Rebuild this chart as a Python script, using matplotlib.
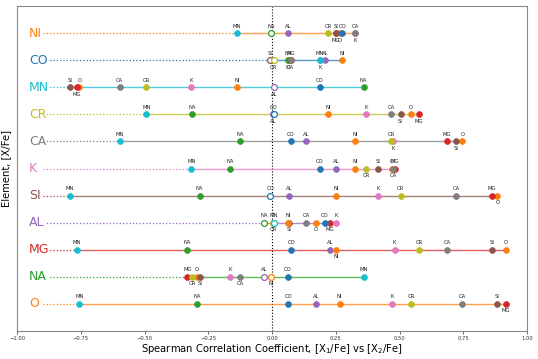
import numpy as np
import matplotlib
matplotlib.use("Agg")
import matplotlib.pyplot as plt

# element order (colour index C1.. wraps through tab10)
elements = ["O", "NA", "MG", "AL", "SI", "K", "CA", "CR", "MN", "CO", "NI"]

# upper-triangle Spearman coefficients
pairs = {
    ("O", "NA"): -0.295, ("O", "MG"): 0.918, ("O", "AL"): 0.173, ("O", "SI"): 0.884,
    ("O", "K"): 0.471, ("O", "CA"): 0.746, ("O", "CR"): 0.546, ("O", "MN"): -0.755,
    ("O", "CO"): 0.063, ("O", "NI"): 0.265,
    ("NA", "MG"): -0.332, ("NA", "AL"): -0.031, ("NA", "SI"): -0.284, ("NA", "K"): -0.163,
    ("NA", "CA"): -0.124, ("NA", "CR"): -0.313, ("NA", "MN"): 0.359, ("NA", "CO"): 0.062,
    ("NA", "NI"): -0.004,
    ("MG", "AL"): 0.228, ("MG", "SI"): 0.863, ("MG", "K"): 0.481, ("MG", "CA"): 0.687,
    ("MG", "CR"): 0.577, ("MG", "MN"): -0.765, ("MG", "CO"): 0.075, ("MG", "NI"): 0.251,
    ("AL", "SI"): 0.068, ("AL", "K"): 0.250, ("AL", "CA"): 0.134, ("AL", "CR"): 0.005,
    ("AL", "MN"): 0.008, ("AL", "CO"): 0.208, ("AL", "NI"): 0.062,
    ("SI", "K"): 0.416, ("SI", "CA"): 0.723, ("SI", "CR"): 0.504, ("SI", "MN"): -0.793,
    ("SI", "CO"): -0.007, ("SI", "NI"): 0.252,
    ("K", "CA"): 0.474, ("K", "CR"): 0.370, ("K", "MN"): -0.316, ("K", "CO"): 0.188,
    ("K", "NI"): 0.325,
    ("CA", "CR"): 0.467, ("CA", "MN"): -0.598, ("CA", "CO"): 0.073, ("CA", "NI"): 0.325,
    ("CR", "MN"): -0.493, ("CR", "CO"): 0.006, ("CR", "NI"): 0.220,
    ("MN", "CO"): 0.187, ("MN", "NI"): -0.138,
    ("CO", "NI"): 0.275,
}

# pairs whose correlation is not significant (drawn as open circles)
not_significant = [("NA", "AL"), ("NA", "NI"), ("AL", "CR"), ("AL", "MN"),
                   ("SI", "CO"), ("CR", "CO")]

# labels placed beneath their point (annotation layout)
labels_below = {
    "NI": ["MG", "O", "K"], "CO": ["CR", "O", "CA", "K"], "MN": ["MG", "AL"],
    "CR": ["AL", "SI", "MG"], "CA": ["K", "SI"], "K": ["CR", "CA"], "SI": ["O"],
    "AL": ["CR", "SI", "O", "MG"], "MG": ["NI"], "NA": ["CR", "SI", "CA", "NI"],
    "O": ["MG"],
}

n = len(elements)
corr = np.eye(n)
for (a, b), v in pairs.items():
    i, j = elements.index(a), elements.index(b)
    corr[i, j] = corr[j, i] = v
ns = set()
for a, b in not_significant:
    ns.add((a, b)); ns.add((b, a))

tab10 = plt.get_cmap("tab10").colors
colors = {el: tab10[(k + 1) % 10] for k, el in enumerate(elements)}

fig = plt.figure(figsize=(5.38, 3.59), dpi=100)
ax = fig.add_axes([0.0316, 0.078, 0.948, 0.905])
ax.set_xlim(-1, 1)
ax.set_ylim(-1, n)

ax.axvline(0, color="black", ls=":", lw=0.8, zorder=1)

for r, el in enumerate(elements):
    y = r
    c = colors[el]
    vals = [corr[r, k] for k in range(n) if k != r]
    vmin, vmax = min(vals), max(vals)
    ax.plot([-0.9, vmin], [y, y], ls=":", lw=0.9, color=c, zorder=2)
    ax.plot([vmin, vmax], [y, y], ls="-", lw=1.0, color=c, alpha=0.75, zorder=2)
    ax.text(-0.953, y, el, color=c, fontsize=9, ha="left", va="center", zorder=3,
            bbox=dict(facecolor="white", edgecolor="none", pad=0.6))
    for k, other in enumerate(elements):
        if k == r:
            continue
        v = corr[r, k]
        oc = colors[other]
        if (el, other) in ns:
            ax.plot(v, y, "o", ms=4.2, mfc="white", mec=oc, mew=0.9, zorder=4)
        else:
            ax.plot(v, y, "o", ms=4.2, mfc=oc, mec=oc, mew=0.5, zorder=4)
        below = other in labels_below.get(el, [])
        ax.annotate(other, (v, y), xytext=(0, -3.2 if below else 3.2),
                    textcoords="offset points", ha="center",
                    va="top" if below else "bottom", fontsize=3.8,
                    color="#222222", zorder=5)

ax.set_yticks([])
ticks = np.linspace(-1, 1, 9)
ax.set_xticks(ticks)
ax.set_xticklabels([f"{t:.2f}".replace("-", "\u2212") for t in ticks], fontsize=3.8)
ax.tick_params(axis="x", length=2, width=0.5, pad=1.5, colors="#333333")
for s in ax.spines.values():
    s.set_color("#888888")
    s.set_linewidth(0.8)

ax.set_xlabel("Spearman Correlation Coefficient, [X$_1$/Fe] vs [X$_2$/Fe]", fontsize=7.2, labelpad=0.5)
ax.set_ylabel("Element, [X/Fe]", fontsize=7.2, labelpad=4)

fig.savefig("out.png", dpi=100)
